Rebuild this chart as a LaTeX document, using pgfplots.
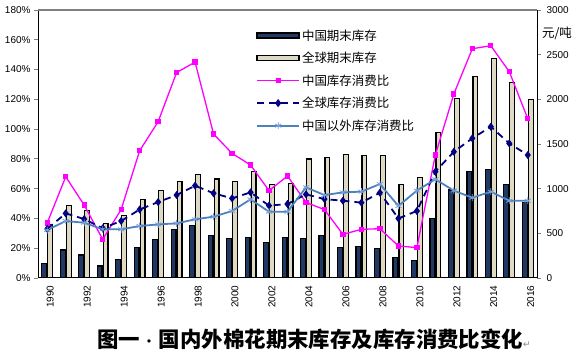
\documentclass[border=0pt]{standalone}
\usepackage{pgfplots}
\pgfplotsset{compat=1.18}
\usepackage{fontspec}
\setmainfont{Liberation Sans}
\newfontfamily\cjk{Noto Sans CJK SC}
\newfontfamily\sym{DejaVu Sans}
\definecolor{navybar}{RGB}{31,56,100}
\definecolor{beige}{RGB}{221,217,195}
\definecolor{mag}{RGB}{255,0,255}
\definecolor{dblue}{RGB}{0,0,128}
\definecolor{lblue}{RGB}{79,129,189}
\definecolor{lbluemark}{RGB}{120,160,220}
\pgfplotsset{
  common/.style={
    at={(38bp,77bp)}, anchor=south west,
    scale only axis, width=499bp, height=268bp,
    xmin=-0.5, xmax=26.5,
    tick label style={font=\fontsize{10}{12}\selectfont},
    /pgf/number format/assume math mode=true,
    /pgf/number format/1000 sep={},
  },
  lineleg/.style={legend image code/.code={
    \draw[mark repeat=2,mark phase=2,##1] plot coordinates {(0bp,0bp) (21bp,0bp) (42bp,0bp)};}},
}
\begin{document}
\begin{tikzpicture}
\useasboundingbox (0,0) rectangle (576bp,355bp);
% bars on the right axis
\begin{axis}[common,
  ymin=0, ymax=3000,
  axis y line*=right, axis x line=none,
  ytick={0,500,...,3000},
  tick align=outside, major tick length=4bp,
  y axis line style={line width=1bp},
  ytick style={line width=0.8bp},
  yticklabel style={xshift=2bp},
]
\addplot[ybar, bar width=4.8bp, bar shift=-3bp, fill=navybar, draw=black, line width=1.2bp]
 coordinates {(0,165)(1,313)(2,257)(3,134)(4,209)(5,344)(6,433)(7,545)(8,590)(9,473)(10,444)(11,455)(12,395)(13,455)(14,444)(15,473)(16,343)(17,350)(18,332)(19,231)(20,194)(21,668)(22,985)(23,1190)(24,1217)(25,1049)(26,847)};
\addplot[ybar, bar width=4.8bp, bar shift=3bp, fill=beige, draw=black, line width=1.2bp]
 coordinates {(0,601)(1,814)(2,758)(3,612)(4,702)(5,881)(6,982)(7,1082)(8,1161)(9,1108)(10,1078)(11,1194)(12,1049)(13,1060)(14,1332)(15,1347)(16,1380)(17,1373)(18,1373)(19,1049)(20,1127)(21,1631)(22,2011)(23,2253)(24,2455)(25,2190)(26,2000)};
\end{axis}
% lines on the left axis
\begin{axis}[common,
  ymin=0, ymax=180,
  axis y line*=left, axis x line*=bottom,
  axis line style={line width=1bp},
  ytick={0,20,...,180},
  yticklabel={\pgfmathprintnumber{\tick}\%},
  ytick style={line width=0.8bp},
  tick align=outside, major tick length=4bp,
  xtick={0,2,...,26},
  xticklabels={1990,1992,1994,1996,1998,2000,2002,2004,2006,2008,2010,2012,2014,2016},
  x tick label style={rotate=90, anchor=east, yshift=-3bp},
  xtick style={draw=none},
  minor xtick={-0.5,0.5,...,26.5},
  minor x tick style={line width=0.6bp},
  minor tick length=3bp,
  legend style={draw=none, fill=none, inner sep=0pt, row sep=6.5bp,
    at={(axis description cs:0.437,0.935)}, anchor=north west,
    font=\cjk\fontsize{12.5}{14}\selectfont,
    /tikz/every even column/.append style={column sep=0bp}},
  legend cell align=left,
]
\draw[gray, line width=1.6bp] (rel axis cs:0,1) -- (rel axis cs:1,1);
\addlegendimage{legend image code/.code={\draw[fill=navybar,draw=black,line width=1.5bp] (0bp,-2.5bp) rectangle (42bp,2.5bp);}}
\addlegendentry{中国期末库存}
\addlegendimage{legend image code/.code={\draw[fill=beige,draw=black,line width=1.5bp] (0bp,-2.5bp) rectangle (42bp,2.5bp);}}
\addlegendentry{全球期末库存}
\addplot[lineleg, mag, line width=1.3bp, mark=square*, mark size=2bp]
 coordinates {(0,37)(1,68)(2,49)(3,26)(4,46)(5,85.5)(6,105)(7,138)(8,145)(9,96.7)(10,83.7)(11,75.9)(12,58.7)(13,68.5)(14,50.8)(15,45.9)(16,29.3)(17,32.7)(18,33.1)(19,21.5)(20,20.4)(21,82.6)(22,123.6)(23,154)(24,156)(25,138.6)(26,107)};
\addlegendentry{中国库存消费比}
\addplot[lineleg, dblue, line width=1.8bp, dash pattern=on 7bp off 5bp, mark=diamond*, mark size=2.6bp, mark options={solid}]
 coordinates {(0,33)(1,43.4)(2,39.6)(3,33.4)(4,38.3)(5,46)(6,51)(7,55.7)(8,62)(9,56.9)(10,53.5)(11,57.5)(12,48.6)(13,49.7)(14,56.2)(15,53)(16,51.9)(17,50.6)(18,57.3)(19,40)(20,45)(21,71.4)(22,84.8)(23,93.8)(24,101.6)(25,90.4)(26,82.6)};
\addlegendentry{全球库存消费比}
\addplot[lineleg, lblue, line width=1.8bp, mark=asterisk, mark size=3.5bp, mark options={lbluemark, line width=0.8bp}]
 coordinates {(0,32.2)(1,38.3)(2,37.1)(3,32.7)(4,32.7)(5,34.9)(6,36)(7,36.7)(8,39.4)(9,41.2)(10,45)(11,52.8)(12,44.5)(13,44.5)(14,60.9)(15,55.7)(16,57.5)(17,58)(18,63.1)(19,48.4)(20,58.7)(21,66.3)(22,58.7)(23,53.9)(24,58)(25,51.9)(26,51.9)};
\addlegendentry{中国以外库存消费比}
\end{axis}
\node[font=\cjk\fontsize{12.5}{14}\selectfont] at (557bp,322bp) {元/吨};
\node[font=\cjk\bfseries\fontsize{21.5}{24}\selectfont, anchor=west, inner sep=0pt] at (97bp,16bp) {图一{\mdseries\fontsize{16}{18}\selectfont\kern1bp\char"00B7\kern2bp}国内外棉花期末库存及库存消费比变化{\sym\mdseries\fontsize{9}{10}\selectfont\color{gray}↵}};
\end{tikzpicture}
\end{document}
